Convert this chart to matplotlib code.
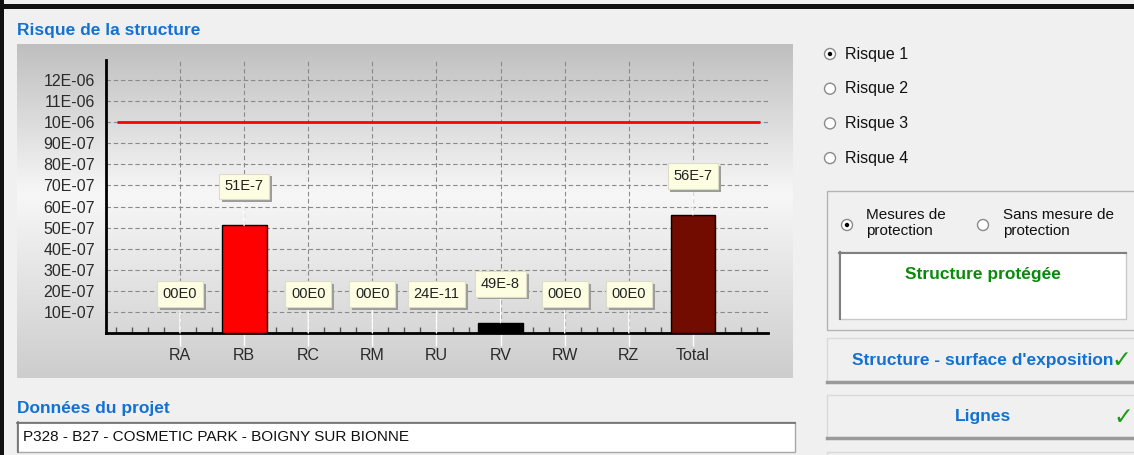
import numpy as np
import matplotlib
matplotlib.use('Agg')
import matplotlib.pyplot as plt
from matplotlib.patches import Rectangle, Circle
from matplotlib.colors import LinearSegmentedColormap
from matplotlib.ticker import MultipleLocator
import matplotlib.patheffects as pe

# chart data
categories = ['RA', 'RB', 'RC', 'RM', 'RU', 'RV', 'RW', 'RZ', 'Total']
risk_values = [0.0, 5.1e-6, 0.0, 0.0, 2.4e-10, 4.9e-7, 0.0, 0.0, 5.6e-6]
value_labels = ['00E0', '51E-7', '00E0', '00E0', '24E-11', '49E-8', '00E0', '00E0', '56E-7']
bar_colors = ['#ff0000', '#ff0000', '#ff0000', '#ff0000', '#000000', '#000000', '#000000', '#000000', '#720c00']
tolerable_risk = 1e-5
y_tick_values = [1e-6, 2e-6, 3e-6, 4e-6, 5e-6, 6e-6, 7e-6, 8e-6, 9e-6, 10e-6, 11e-6, 12e-6]
y_tick_labels = ['10E-07', '20E-07', '30E-07', '40E-07', '50E-07', '60E-07',
                 '70E-07', '80E-07', '90E-07', '10E-06', '11E-06', '12E-06']

# window texts
risk_options = ['Risque 1', 'Risque 2', 'Risque 3', 'Risque 4']
project_name = 'P328 - B27 - COSMETIC PARK - BOIGNY SUR BIONNE'

W, H = 1134, 455
BLUE = '#1272d3'
plt.rcParams['font.family'] = ['Liberation Sans', 'DejaVu Sans']

fig = plt.figure(figsize=(W / 100, H / 100), dpi=100)
fig.patch.set_facecolor('#f0f0f0')

# ---- window / form elements, drawn in pixel coordinates ----
ui = fig.add_axes([0, 0, 1, 1], zorder=0)
ui.axis('off')

# gradient panel behind the chart
grad_cmap = LinearSegmentedColormap.from_list(
    'panel', [(0.0, '#bfbfbf'), (0.45, '#f7f7f7'), (1.0, '#cdcdcd')])
ui.imshow(np.linspace(0, 1, 256).reshape(-1, 1), cmap=grad_cmap, aspect='auto',
          extent=(17, 793, 378, 44), interpolation='bicubic')

# black frame at left / top
ui.add_patch(Rectangle((0, 0), 4, H, fc='#111111', ec='none'))
ui.add_patch(Rectangle((0, 4), W, 5, fc='#111111', ec='none'))

ui.text(17, 30, 'Risque de la structure', color=BLUE, fontsize=12.5,
        fontweight='bold', va='center', ha='left')
ui.text(17, 408, 'Données du projet', color=BLUE, fontsize=12.5,
        fontweight='bold', va='center', ha='left')
ui.add_patch(Rectangle((17, 422), 778, 30, fc='white', ec='#a8a8a8', lw=1))
ui.plot([17, 795], [422.5, 422.5], color='#6e6e6e', lw=1.2)
ui.plot([17.5, 17.5], [422, 452], color='#6e6e6e', lw=1.2)
ui.text(23, 437, project_name, fontsize=11, color='#111111',
        va='center', ha='left')


def radio(x, y, selected):
    ui.add_patch(Circle((x, y), 5.5, fc='white', ec='#8a8a8a', lw=1))
    if selected:
        ui.add_patch(Circle((x, y), 2.2, fc='black', ec='none'))


for i, opt in enumerate(risk_options):
    yy = 54 + i * 34.7
    radio(830, yy, i == 0)
    ui.text(845, yy, opt, fontsize=11.5, color='#111111', va='center', ha='left')

# protection group box
ui.add_patch(Rectangle((827, 191), 320, 139, fc='none', ec='#b4b4b4', lw=1))
radio(847, 225, True)
ui.text(866, 223, 'Mesures de\nprotection', fontsize=11, color='#111111',
        va='center', ha='left', linespacing=1.25)
radio(983, 225, False)
ui.text(1003, 223, 'Sans mesure de\nprotection', fontsize=11, color='#111111',
        va='center', ha='left', linespacing=1.25)
ui.add_patch(Rectangle((839, 252), 287, 67, fc='white', ec='#c8c8c8', lw=1))
ui.plot([839, 1126], [252.5, 252.5], color='#808080', lw=1.5)
ui.plot([839.5, 839.5], [252, 319], color='#808080', lw=1.5)
ui.text(983, 274, 'Structure protégée', color='#0a8a0a', fontsize=12.5,
        fontweight='bold', va='center', ha='center')


def button(y0, y1, label, label_x, check_x):
    ui.add_patch(Rectangle((827, y0), 320, y1 - y0, fc='#f0f0f0', ec='#dadada', lw=1))
    ui.plot([827, W], [y1, y1], color='#9a9a9a', lw=2.5)
    ui.text(label_x, (y0 + y1) / 2, label, color=BLUE, fontsize=12.5,
            fontweight='bold', va='center', ha='center')
    ui.text(check_x, (y0 + y1) / 2, '\u2713', color='#1a9a1a', fontsize=17,
            family='DejaVu Sans', va='center', ha='center')


button(338, 382, "Structure - surface d'exposition", 983, 1121)
button(395, 438, 'Lignes', 983, 1123)
ui.add_patch(Rectangle((827, 452), 320, 10, fc='#f0f0f0', ec='#dadada', lw=1))

ui.set_xlim(0, W)
ui.set_ylim(H, 0)

# ---- the bar chart ----
ax = fig.add_axes([106 / W, 1 - 333 / H, 662 / W, 273 / H], zorder=1)
ax.patch.set_alpha(0)
x = np.arange(len(categories))

ax.bar(x, risk_values, width=0.7, color=bar_colors, edgecolor='black',
       linewidth=1, zorder=3)
ax.hlines(tolerable_risk, -0.98, 9.04, color='#ff0000', lw=2, zorder=3)

for xi, v, lbl in zip(x, risk_values, value_labels):
    ann = ax.annotate(lbl, xy=(xi, v), xytext=(0, 39), textcoords='offset pixels',
                      ha='center', va='center', fontsize=10.5, color='#222222', zorder=5,
                      bbox=dict(boxstyle='square,pad=0.4', fc='#fdfde2', ec='#dcdcc8', lw=0.8),
                      arrowprops=dict(arrowstyle='-', color='white', lw=1,
                                      shrinkA=0, shrinkB=0))
    ann.get_bbox_patch().set_path_effects(
        [pe.SimplePatchShadow(offset=(2, -2), shadow_rgbFace='#9c9c9c', alpha=1.0),
         pe.Normal()])

ax.set_xlim(-1.154, 9.17)
ax.set_ylim(0, 12.95e-6)
ax.set_xticks(x)
ax.set_xticklabels(categories)
ax.set_yticks(y_tick_values)
ax.set_yticklabels(y_tick_labels)
ax.xaxis.set_minor_locator(MultipleLocator(0.25))

ax.tick_params(axis='y', length=0, pad=8, labelsize=11.5, labelcolor='#2a2a2a')
ax.tick_params(axis='x', which='major', length=9, width=1, color='white',
               direction='out', pad=2, labelsize=11.5, labelcolor='#2a2a2a')
ax.tick_params(axis='x', which='minor', length=4, width=1, color='#555555',
               direction='in')

for s in ['top', 'right']:
    ax.spines[s].set_visible(False)
for s in ['left', 'bottom']:
    ax.spines[s].set_linewidth(2)
    ax.spines[s].set_color('black')

ax.set_axisbelow(True)
ax.grid(True, which='major', color='#8a8a8a', linestyle=(0, (4, 2.5)), linewidth=0.8)

fig.savefig('out.png', dpi=100, facecolor=fig.get_facecolor())
